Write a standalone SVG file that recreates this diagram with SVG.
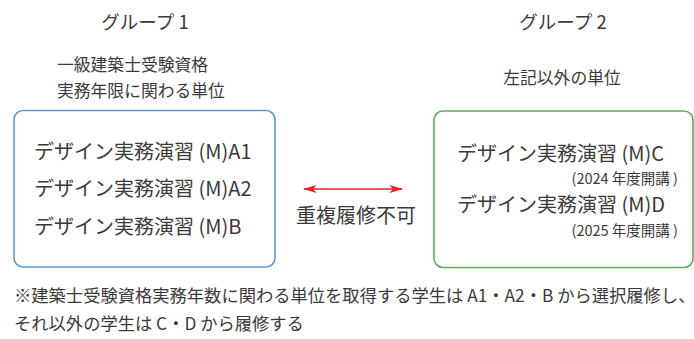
<svg xmlns="http://www.w3.org/2000/svg" width="694" height="339" viewBox="0 0 694 339">
<style>
text{font-family:"Noto Sans CJK JP","Noto Sans",sans-serif;fill:#3a3a3a}
.h{font-size:18.5px}
.s{font-size:16.8px}
.m{font-size:20px}
.n{font-size:14.5px}
.f{font-size:17.3px}
</style>
<defs>
<marker id="ah" viewBox="0 0 10 10" refX="9" refY="5" markerWidth="14" markerHeight="8" markerUnits="userSpaceOnUse" orient="auto-start-reverse" preserveAspectRatio="none">
<path d="M0,0 L10,5 L0,10 L2.5,5 Z" fill="#e32229"/>
</marker>
</defs>
<rect width="694" height="339" fill="#fff"/>
<g id="header1">
<text class="h" x="145" y="29" text-anchor="middle">グループ 1</text>
<text class="s" x="57" y="71">一級建築士受験資格</text>
<text class="s" x="57" y="97">実務年限に関わる単位</text>
</g>
<g id="header2">
<text class="h" x="563" y="29" text-anchor="middle">グループ 2</text>
<text class="s" x="562" y="84" text-anchor="middle">左記以外の単位</text>
</g>
<g id="group1">
<rect x="14" y="110.5" width="261" height="156.5" rx="9" fill="none" stroke="#5b9bd5" stroke-width="1.6"/>
<text class="m" x="34" y="159">デザイン実務演習 (M)A1</text>
<text class="m" x="34" y="196">デザイン実務演習 (M)A2</text>
<text class="m" x="34" y="234">デザイン実務演習 (M)B</text>
</g>
<g id="group2">
<rect x="434" y="111" width="259" height="156.5" rx="9" fill="none" stroke="#5cae5c" stroke-width="1.6"/>
<text class="m" x="457" y="161">デザイン実務演習 (M)C</text>
<text class="n" x="678" y="184" text-anchor="end">(2024 年度開講 )</text>
<text class="m" x="457" y="212">デザイン実務演習 (M)D</text>
<text class="n" x="678" y="236" text-anchor="end">(2025 年度開講 )</text>
</g>
<g id="connectors">
<line x1="304" y1="189" x2="402" y2="189" stroke="#e32229" stroke-width="1.5" marker-start="url(#ah)" marker-end="url(#ah)"/>
<text x="356" y="223" text-anchor="middle" style="font-size:20px">重複履修不可</text>
</g>
<g id="note">
<text class="f" x="14" y="302">※建築士受験資格実務年数に関わる単位を取得する学生は A1・A2・B から選択履修し、</text>
<text class="f" x="14" y="330">それ以外の学生は C・D から履修する</text>
</g>
</svg>
